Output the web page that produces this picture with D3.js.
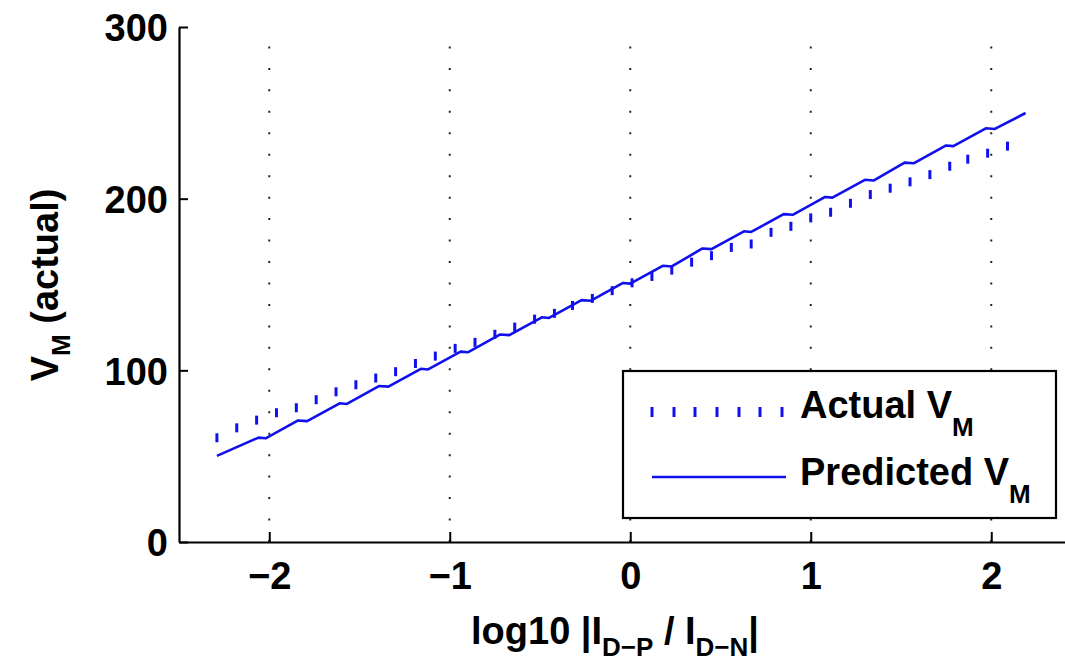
<!DOCTYPE html>
<html>
<head>
<meta charset="utf-8">
<script src="https://cdn.jsdelivr.net/npm/d3@7"></script>
<style>
  body { margin: 0; background: #fff; }
  svg { display: block; font-family: "Liberation Sans", Arial, sans-serif; font-weight: bold; }
</style>
</head>
<body>
<svg id="chart" width="1065" height="665"></svg>
<script>
// x = log10 |I_D-P / I_D-N|, y = V_M
var actualX = [-2.29, -2.18, -2.07, -1.96, -1.85, -1.74, -1.63, -1.52, -1.41, -1.30,
  -1.19, -1.08, -0.97, -0.86, -0.75, -0.64, -0.53, -0.42, -0.32, -0.21,
  -0.10, 0.01, 0.12, 0.23, 0.34, 0.45, 0.56, 0.67, 0.78, 0.89,
  1.00, 1.11, 1.22, 1.33, 1.44, 1.55, 1.66, 1.77, 1.87, 1.98, 2.09];
var actualY = [60.7, 66.5, 71.0, 75.3, 78.2, 82.9, 87.5, 91.6, 95.5, 99.2,
  104.0, 108.3, 112.8, 116.3, 121.0, 125.2, 129.8, 133.2, 137.8, 141.9,
  146.4, 151.0, 154.7, 158.4, 163.0, 166.8, 171.6, 173.6, 180.4, 183.9,
  188.8, 192.1, 197.3, 202.4, 206.1, 209.8, 214.0, 218.9, 223.0, 226.5, 230.6];

var predX = [-2.29, -2.06, -2.02, -1.84, -1.79, -1.61, -1.57, -1.39, -1.34, -1.16, -1.12,
  -0.94, -0.90, -0.72, -0.67, -0.49, -0.45, -0.27, -0.22, -0.04, 0.00,
  0.18, 0.23, 0.40, 0.45, 0.63, 0.67, 0.85, 0.90, 1.08, 1.12,
  1.30, 1.35, 1.52, 1.57, 1.75, 1.79, 1.97, 2.02, 2.19];
var predY = [50.2, 60.8, 60.4, 70.8, 70.4, 80.8, 80.4, 90.9, 90.5, 100.9, 100.5,
  110.9, 110.5, 120.9, 120.5, 130.9, 130.5, 140.9, 140.5, 150.9, 150.5,
  160.9, 160.5, 171.0, 170.6, 181.0, 180.6, 191.0, 190.6, 201.0, 200.6,
  211.0, 210.6, 221.0, 220.6, 231.0, 230.6, 241.0, 240.6, 249.9];

var xTicks = [-2, -1, 0, 1, 2];
var yTicks = [0, 100, 200, 300];

var blue = "#1010ee";
var svg = d3.select("#chart");
svg.append("rect").attr("width", 1065).attr("height", 665).attr("fill", "#fff");

var x = d3.scaleLinear().domain([-2.5, 2.5]).range([179, 1081.5]);
var y = d3.scaleLinear().domain([0, 300]).range([542, 27]);

// dotted grid
svg.append("g").selectAll("line").data(xTicks).enter().append("line")
  .attr("x1", d => x(d)).attr("x2", d => x(d))
  .attr("y1", y(0)).attr("y2", y(300))
  .attr("stroke", "#222").attr("stroke-width", 2)
  .attr("stroke-dasharray", "2 19.46");

// predicted
var line = d3.line().x((d, i) => x(predX[i])).y(d => y(d));
svg.append("path").attr("d", line(predY))
  .attr("fill", "none").attr("stroke", blue).attr("stroke-width", 2.6)
  .attr("stroke-linejoin", "round");

// actual (short vertical marks)
svg.append("g").selectAll("line").data(actualY).enter().append("line")
  .attr("x1", (d, i) => x(actualX[i])).attr("x2", (d, i) => x(actualX[i]))
  .attr("y1", d => y(d) - 4.5).attr("y2", d => y(d) + 4.5)
  .attr("stroke", blue).attr("stroke-width", 3);

// axes
var fs = 38;
var ax = svg.append("g").attr("transform", "translate(0," + y(0) + ")")
  .call(d3.axisBottom(x).tickValues(xTicks).tickSizeInner(-10).tickSizeOuter(0).tickPadding(20).tickFormat(d3.format("d")));
var ay = svg.append("g").attr("transform", "translate(" + x(-2.5) + ",0)")
  .call(d3.axisLeft(y).tickValues(yTicks).tickSizeInner(-9).tickSizeOuter(0).tickPadding(11));
[ax, ay].forEach(function (g) {
  g.select(".domain").attr("stroke", "#000").attr("stroke-width", 2.2);
  g.selectAll(".tick line").attr("stroke", "#000").attr("stroke-width", 2);
  g.selectAll(".tick text").attr("fill", "#000").style("font-size", fs + "px")
    .style("font-family", "Liberation Sans, Arial, sans-serif").style("font-weight", "bold");
});
ay.selectAll(".tick text").attr("dy", "0.36em");

// axis labels
var xl = svg.append("text").attr("x", 615).attr("y", 644).attr("text-anchor", "middle")
  .style("font-size", fs + "px");
xl.append("tspan").text("log10 |I");
xl.append("tspan").attr("dy", 12).style("font-size", "26px").text("D\u2212P");
xl.append("tspan").attr("dy", -12).text(" / I");
xl.append("tspan").attr("dy", 12).style("font-size", "26px").text("D\u2212N");
xl.append("tspan").attr("dy", -12).text("|");

var yl = svg.append("text").attr("transform", "translate(58,285) rotate(-90)")
  .attr("text-anchor", "middle").style("font-size", fs + "px");
yl.append("tspan").text("V");
yl.append("tspan").attr("dy", 12).style("font-size", "26px").text("M");
yl.append("tspan").attr("dy", -12).text(" (actual)");

// legend
var lg = svg.append("g");
lg.append("rect").attr("x", 623).attr("y", 371).attr("width", 433).attr("height", 147)
  .attr("fill", "#fff").attr("stroke", "#000").attr("stroke-width", 2.2);
var legendMarks = [652, 674, 695, 717, 739, 760, 782];
lg.selectAll("line.m").data(legendMarks).enter().append("line")
  .attr("x1", d => d).attr("x2", d => d).attr("y1", 407).attr("y2", 417)
  .attr("stroke", blue).attr("stroke-width", 3);
lg.append("line").attr("x1", 652).attr("x2", 786).attr("y1", 477).attr("y2", 477)
  .attr("stroke", blue).attr("stroke-width", 2.6);
[["Actual V", 418], ["Predicted V", 485]].forEach(function (t) {
  var tx = lg.append("text").attr("x", 800).attr("y", t[1]).style("font-size", fs + "px");
  tx.append("tspan").text(t[0]);
  tx.append("tspan").attr("dy", 18).style("font-size", "26px").text("M");
});
</script>
</body>
</html>
